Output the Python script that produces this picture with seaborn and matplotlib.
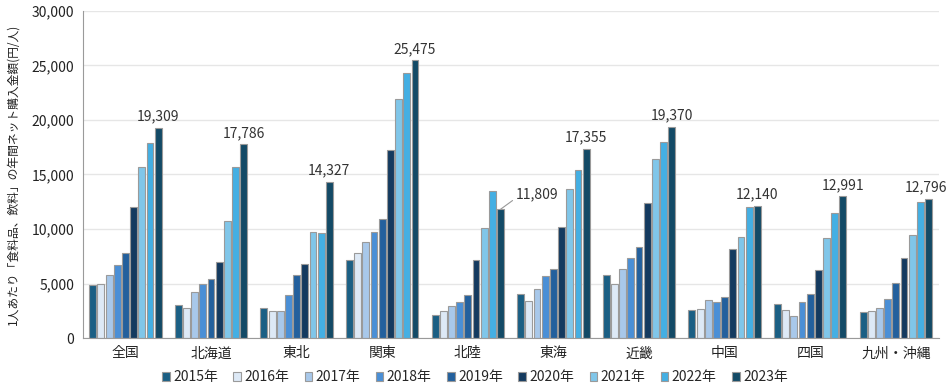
import seaborn as sns
import pandas as pd
import numpy as np
import matplotlib
matplotlib.use("Agg")
import matplotlib.pyplot as plt
from matplotlib.ticker import FuncFormatter

regions = ["全国", "北海道", "東北", "関東", "北陸", "東海", "近畿", "中国", "四国", "九州・沖縄"]
years = ["2015年", "2016年", "2017年", "2018年", "2019年", "2020年", "2021年", "2022年", "2023年"]

# values per year, in region order
v2015 = [4890, 3050, 2750, 7120, 2140, 4030, 5740, 2540, 3090, 2410]
v2016 = [4950, 2750, 2500, 7790, 2440, 3360, 4950, 2660, 2540, 2470]
v2017 = [5800, 4180, 2500, 8770, 2960, 4490, 6320, 3510, 2050, 2720]
v2018 = [6720, 4950, 3910, 9770, 3300, 5650, 7300, 3270, 3270, 3600]
v2019 = [7790, 5440, 5800, 10930, 3970, 6320, 8310, 3760, 4060, 5010]
v2020 = [12000, 6930, 6810, 17200, 7180, 10170, 12430, 8160, 6260, 7360]
v2021 = [15730, 10750, 9770, 21930, 10050, 13650, 16430, 9250, 9160, 9410]
v2022 = [17930, 15730, 9620, 24340, 13440, 15390, 18020, 12060, 11450, 12460]
v2023 = [19309, 17786, 14327, 25475, 11809, 17355, 19370, 12140, 12991, 12796]

colors = ["#1b5f84", "#dde9f6", "#a8c8ea", "#4a8fd6", "#23609d",
          "#143a5f", "#80c6e9", "#44afe3", "#134a66"]

series = [v2015, v2016, v2017, v2018, v2019, v2020, v2021, v2022, v2023]
rows = []
for y, vals in zip(years, series):
    for r, v in zip(regions, vals):
        rows.append({"地域": r, "年": y, "金額": v})
df = pd.DataFrame(rows)

sns.set_style("white")
plt.rcParams["font.family"] = ["Noto Sans CJK JP", "DejaVu Sans"]

fig = plt.figure(figsize=(9.5, 3.91), dpi=100)
ax = fig.add_axes([0.087, 0.1355, 0.901, 0.8365])

sns.barplot(data=df, x="地域", y="金額", hue="年", order=regions, hue_order=years,
            palette=colors, saturation=1, width=0.86, gap=0.16, edgecolor="#9a9a9a",
            linewidth=0.8, ax=ax, legend=True)

ax.set_ylim(0, 30000)
ax.set_yticks(np.arange(0, 30001, 5000))
ax.yaxis.set_major_formatter(FuncFormatter(lambda x, p: f"{int(x):,}"))
ax.grid(axis="y", color="#e6e6e6", linewidth=1)
ax.set_axisbelow(True)
for s in ["top", "right"]:
    ax.spines[s].set_visible(False)
ax.spines["left"].set_color("#9a9a9a")
ax.spines["bottom"].set_color("#9a9a9a")
ax.tick_params(axis="both", length=0, labelsize=10, colors="#222222", pad=6)
ax.set_xlabel("")
ax.set_ylabel("1人あたり「食料品、飲料」の年間ネット購入金額(円/人)", fontsize=8.5, color="#222222", labelpad=9)
ax.set_xlim(-0.5, len(regions) - 0.5)

# labels over 2023 bars
for bar, r, v in zip(ax.containers[-1], regions, v2023):
    cx = bar.get_x() + bar.get_width() / 2
    top = bar.get_height()
    if r == "北陸":
        ax.annotate(f"{v:,}", xy=(cx, top), xytext=(11, 6), textcoords="offset points",
                    ha="left", va="bottom", fontsize=10, color="#333333",
                    arrowprops=dict(arrowstyle="-", color="#999999", lw=0.8,
                                    shrinkA=0, shrinkB=0, relpos=(0, 0.2)))
    else:
        ax.annotate(f"{v:,}", xy=(cx, top), xytext=(-2 if r == "九州・沖縄" else 0, 3),
                    textcoords="offset points",
                    ha="center", va="bottom", fontsize=10, color="#333333")

handles, labels = ax.get_legend_handles_labels()
ax.legend_.remove()
fig.legend(handles, labels, loc="lower center", bbox_to_anchor=(0.5, -0.015), ncol=9,
           frameon=False, fontsize=10, handlelength=0.55, handleheight=0.55,
           handletextpad=0.25, columnspacing=1.1)

fig.savefig("out.png", dpi=100)
